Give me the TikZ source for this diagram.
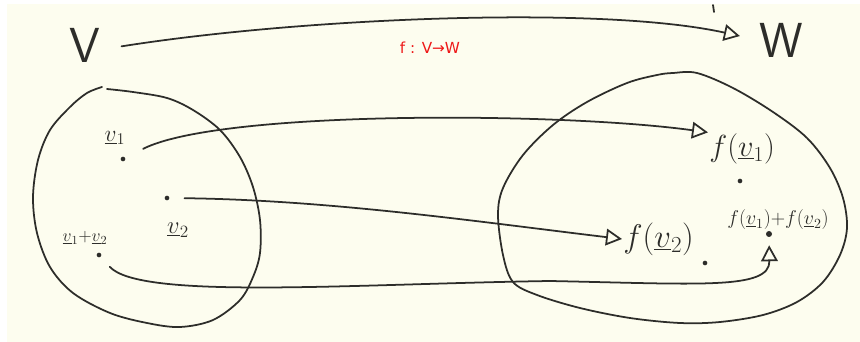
\RequirePackage{fix-cm}
\documentclass[tikz,border=0pt]{standalone}
\usepackage{fontspec}
\newfontfamily\maplabelfont{DejaVu Sans}
\usetikzlibrary{arrows.meta}
\definecolor{paper}{RGB}{253,253,239}
\definecolor{ink}{RGB}{45,45,42}
\definecolor{mapred}{RGB}{238,24,24}

\begin{document}
\begin{tikzpicture}[x=0.03cm, y=-0.03cm, line cap=round, line join=round,
  stroke/.style={draw=ink, line width=1.5pt},
  arr/.style={stroke, -{Triangle[open, length=4.8mm, width=5mm, line width=1.5pt]}},
  dot/.style={circle, fill=ink, inner sep=0pt, minimum size=1.4mm},
  setname/.style={inner sep=1pt, text=ink, font=\fontsize{42}{46}\selectfont\sffamily},
  vec/.style={inner sep=1pt, text=ink}]
\useasboundingbox (0,0) rectangle (860,342);
\fill[paper] (7,4) rectangle (860,342);
% ---- the two spaces
\node[setname] (V) at (85,45) {V};
\node[setname] (W) at (781,40) {W};
\draw[arr, shorten <=0.6cm, shorten >=0.55cm] (V.-15) .. controls (300,18) and (600,5) .. (W.west);
\draw[stroke] (713,5) -- (714,12);
\node[text=mapred, font=\maplabelfont\fontsize{13}{15}\selectfont] (map) at (430,48) {f : V→W};
% ---- domain blob
\draw[stroke] plot[smooth, tension=0.55] coordinates {(107,89) (133,92) (167,98) (193,110) (220,130) (240,157) (253,187) (260,220) (260,253) (253,277) (240,300) (213,320) (180,327) (147,323) (110,313) (73,293) (50,267) (37,233) (33,197) (38,160) (50,130) (70,107) (87,93) (102,87)};
% ---- codomain blob
\draw[stroke] plot[smooth cycle, tension=0.55] coordinates {(673,73) (697,73) (733,88) (773,112) (807,138) (830,168) (843,198) (847,228) (840,255) (823,282) (797,302) (763,315) (720,322) (680,323) (630,318) (580,308) (537,295) (513,282) (503,255) (498,215) (503,188) (523,155) (553,125) (587,102) (627,83) (657,75)};
% ---- vectors in V
\node[vec, font=\fontsize{20}{24}\selectfont] (v1) at (115,138) {$\underline{v}_1$};
\node[dot] (v1dot) at (123,159) {};
\node[dot] (v2dot) at (167,198) {};
\node[vec, font=\fontsize{21}{24}\selectfont] (v2) at (178,230) {$\underline{v}_2$};
\node[vec, font=\fontsize{15}{18}\selectfont] (vsum) at (85,238) {$\underline{v}_1{+}\underline{v}_2$};
\node[dot] (vsumdot) at (99,255) {};
% ---- images in W
\node[vec, anchor=west, font=\fontsize{26}{30}\selectfont] (fv1) at (708,149) {$f(\underline{v}_1)$};
\node[dot] (fv1dot) at (740,181) {};
\node[vec, anchor=west, font=\fontsize{28}{30}\selectfont] (fv2) at (622,239) {$f(\underline{v}_2)$};
\node[dot] (fv2dot) at (705,263) {};
\node[vec, font=\fontsize{17}{19}\selectfont] (fsum) at (778,220) {$f(\underline{v}_1){+}f(\underline{v}_2)$};
\node[dot, minimum size=1.8mm] (fsumdot) at (769,234) {};
% ---- the map on each vector
\draw[arr, shorten <=0.6cm] (v1dot) .. controls (220,110) and (560,112) .. (fv1.north west);
\draw[arr, shorten <=0.45cm] (v2dot) .. controls (330,200) and (480,222) .. (fv2.west);
\draw[arr, shorten <=0.4cm, shorten >=2.4mm] (vsumdot) .. controls (140,300) and (350,284) .. (550,281) .. controls (700,284) and (770,290) .. (fsumdot.south);
\end{tikzpicture}
\end{document}
